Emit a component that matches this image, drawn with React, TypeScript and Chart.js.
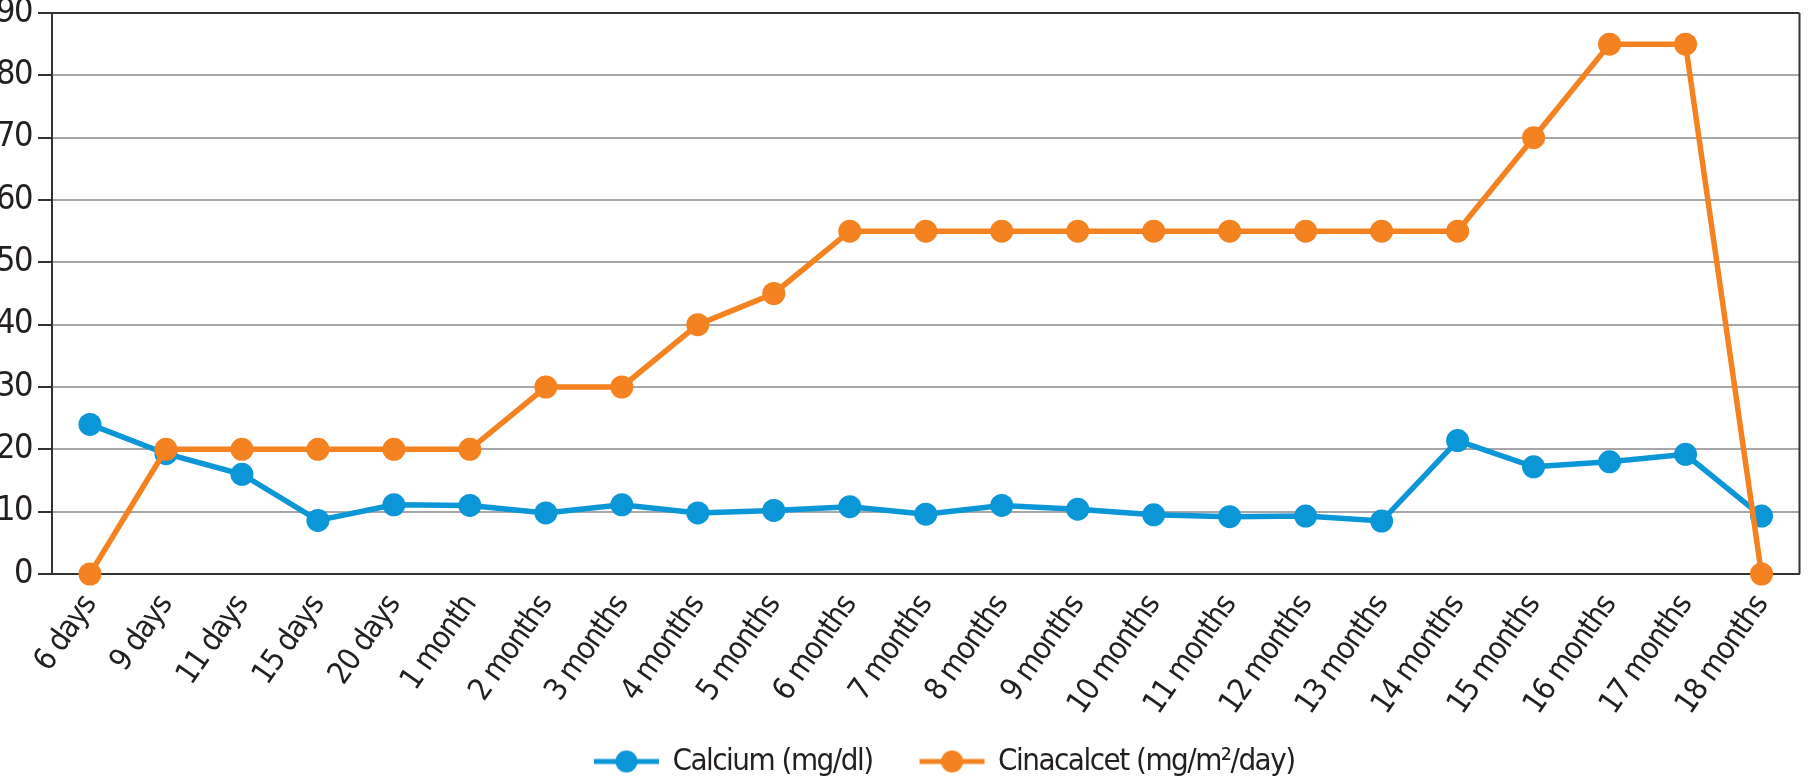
import React, { useEffect, useRef } from "react";
import { Chart, registerables } from "chart.js";

Chart.register(...registerables);

const categories: string[] = [
  "6 days", "9 days", "11 days", "15 days", "20 days", "1 month",
  "2 months", "3 months", "4 months", "5 months", "6 months", "7 months",
  "8 months", "9 months", "10 months", "11 months", "12 months", "13 months",
  "14 months", "15 months", "16 months", "17 months", "18 months",
];

const calcium: number[] = [
  24, 19.3, 16, 8.6, 11.1, 11, 9.8, 11.1, 9.8, 10.2, 10.8, 9.6,
  11, 10.4, 9.5, 9.2, 9.3, 8.5, 21.4, 17.2, 18, 19.2, 9.3,
];

const cinacalcet: number[] = [
  0, 20, 20, 20, 20, 20, 30, 30, 40, 45, 55, 55,
  55, 55, 55, 55, 55, 55, 55, 70, 85, 85, 0,
];

const seriesNames: string[] = ["Calcium (mg/dl)", "Cinacalcet (mg/m\u00B2/day)"];
const yTicks = { min: 0, max: 90, step: 10 };

const BLUE = "#0a96d7";
const ORANGE = "#f58220";
const INK = "#231f20";
const FONT = "'DejaVu Sans Condensed', 'Liberation Sans Narrow', sans-serif";
const LETTER_SPACING = "-1.5px";

// legend marker: line with a dot, drawn into an image (offset inside image)
function legendMarker(color: string): HTMLCanvasElement {
  const c = document.createElement("canvas");
  c.width = 130;
  c.height = 26;
  const g = c.getContext("2d")!;
  g.strokeStyle = color;
  g.lineWidth = 5;
  g.beginPath();
  g.moveTo(52, 13);
  g.lineTo(117, 13);
  g.stroke();
  g.fillStyle = color;
  g.beginPath();
  g.arc(84.5, 13, 11, 0, Math.PI * 2);
  g.fill();
  return c;
}

const tightText = {
  id: "tightText",
  beforeLayout(chart: any) {
    (chart.ctx as any).letterSpacing = LETTER_SPACING;
  },
  beforeDraw(chart: any) {
    (chart.ctx as any).letterSpacing = LETTER_SPACING;
  },
};

const frame = {
  id: "frame",
  beforeDatasetsDraw(chart: any) {
    const { ctx, chartArea } = chart;
    ctx.save();
    ctx.strokeStyle = "#333333";
    ctx.lineWidth = 2;
    ctx.beginPath();
    ctx.moveTo(chartArea.right, chartArea.top);
    ctx.lineTo(chartArea.right, chartArea.bottom);
    ctx.stroke();
    ctx.restore();
  },
};

export default function App() {
  const ref = useRef<HTMLCanvasElement | null>(null);

  useEffect(() => {
    if (!ref.current) return;
    const markers = [legendMarker(BLUE), legendMarker(ORANGE)];
    const chart = new Chart(ref.current, {
      type: "line",
      data: {
        labels: categories,
        datasets: [
          {
            label: seriesNames[0],
            data: calcium,
            borderColor: BLUE,
            backgroundColor: BLUE,
            borderWidth: 5.5,
            pointRadius: 11.5,
            pointHoverRadius: 11.5,
            pointBorderWidth: 0,
            tension: 0,
            clip: false as any,
            order: 1,
          },
          {
            label: seriesNames[1],
            data: cinacalcet,
            borderColor: ORANGE,
            backgroundColor: ORANGE,
            borderWidth: 5.5,
            pointRadius: 11.5,
            pointHoverRadius: 11.5,
            pointBorderWidth: 0,
            tension: 0,
            clip: false as any,
            order: 0,
          },
        ],
      },
      options: {
        animation: false,
        responsive: true,
        maintainAspectRatio: false,
        layout: { padding: { left: 0, right: 2, top: 13, bottom: -6 } },
        plugins: {
          tooltip: { enabled: false },
          legend: {
            position: "bottom",
            fullSize: false,
            labels: {
              usePointStyle: true,
              pointStyleWidth: 100,
              padding: 10,
              color: INK,
              font: { family: FONT, size: 31 },
              generateLabels: (c: any) =>
                c.data.datasets.map((ds: any, i: number) => ({
                  text: ds.label,
                  fillStyle: ds.backgroundColor,
                  strokeStyle: ds.borderColor,
                  lineWidth: 0,
                  pointStyle: markers[i],
                  datasetIndex: i,
                  hidden: false,
                  fontColor: INK,
                })),
            },
          },
        },
        scales: {
          x: {
            offset: true,
            grid: { display: false, drawTicks: false },
            border: { display: true, color: "#333333", width: 2 },
            ticks: {
              autoSkip: false,
              minRotation: 55,
              maxRotation: 55,
              padding: 15,
              color: INK,
              font: { family: FONT, size: 31 },
            },
            afterFit: (s: any) => {
              s.height = 162;
              s.paddingLeft = 0;
              s.paddingRight = 0;
            },
          },
          y: {
            min: yTicks.min,
            max: yTicks.max,
            grid: {
              color: (c: any) => (c.tick && c.tick.value === yTicks.max ? "#333333" : "#a7a7a9"),
              lineWidth: 2,
              tickColor: "#333333",
              tickLength: 14,
              tickWidth: 2,
            },
            border: { display: true, color: "#333333", width: 2 },
            ticks: {
              stepSize: yTicks.step,
              padding: 6,
              color: INK,
              font: { family: FONT, size: 34 },
            },
            afterFit: (s: any) => {
              s.width = 52;
              s.paddingTop = 0;
              s.paddingBottom = 0;
            },
          },
        },
      },
      plugins: [tightText, frame],
    });
    return () => chart.destroy();
  }, []);

  return (
    <div style={{ position: "fixed", left: 0, top: 0, width: 1811, height: 781, background: "#fff" }}>
      <canvas ref={ref} />
    </div>
  );
}
